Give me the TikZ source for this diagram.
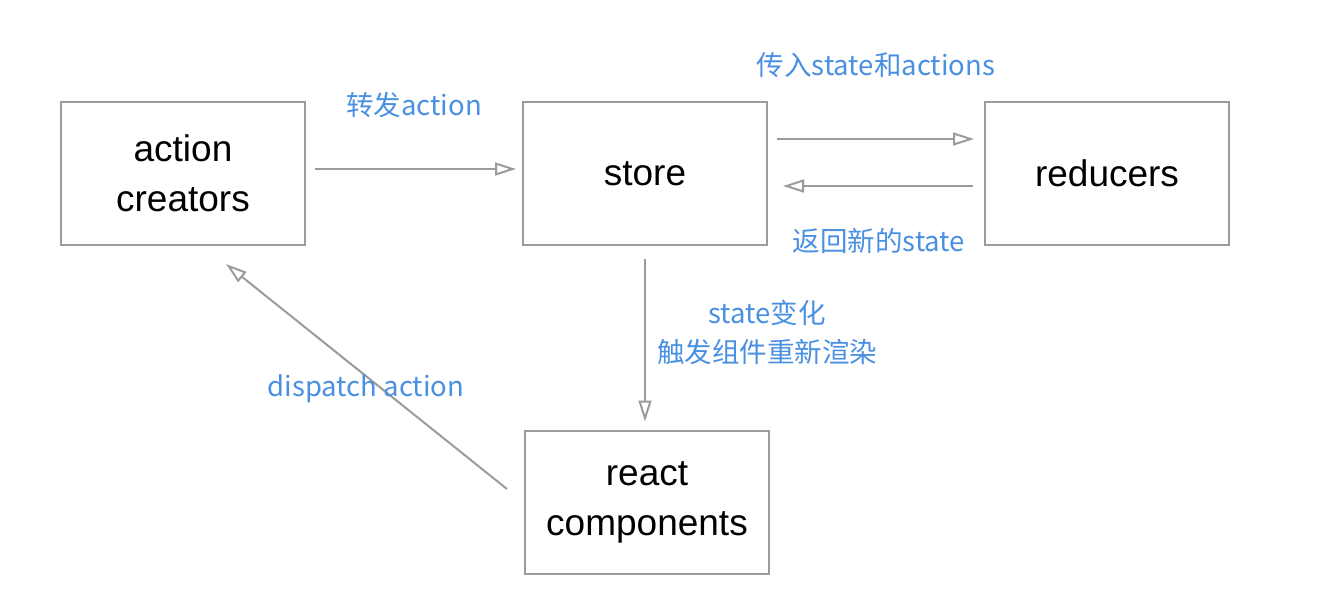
\documentclass[tikz,border=0pt]{standalone}
\usepackage{fontspec}
\setmainfont{Liberation Sans}
\newfontfamily\cjk{Noto Sans CJK SC}
\usetikzlibrary{arrows.meta}
\definecolor{linegray}{HTML}{9B9B9B}
\definecolor{labelblue}{HTML}{4A90E2}
\tikzset{
  box/.style={draw=linegray, line width=2pt, minimum width=244pt, minimum height=143pt, align=center, inner sep=0pt,
    font=\fontsize{37}{50}\selectfont, text=black},
  conn/.style={draw=linegray, line width=2pt, -{Triangle[open, length=21pt, width=13pt, line width=2pt]}},
  lbl/.style={text=labelblue, font=\cjk\fontsize{27.5}{39}\selectfont, align=center, inner sep=0pt}
}
\begin{document}
\begin{tikzpicture}[x=1pt, y=-1pt]
\useasboundingbox (0,0) rectangle (1322,614);
\node[box] (ac) at (183,173.5) {action\\creators};
\node[box] (st) at (645,173.5) {store};
\node[box] (rd) at (1107,173.5) {reducers};
\node[box] (rc) at (647,502) {react\\components};

\draw[conn] ([shift={(9,-4.5)}]ac.east) -- ([shift={(-6,-4.5)}]st.west);
\draw[conn] ([shift={(9,-34.5)}]st.east) -- ([shift={(-10,-34.5)}]rd.west);
\draw[conn] ([shift={(-11,12.5)}]rd.west) -- ([shift={(15,12.5)}]st.east);
\draw[conn] ([shift={(0,13)}]st.south) -- ([shift={(-2,-8)}]rc.north);
\draw[conn] ([shift={(-17,-13)}]rc.west) -- ([shift={(43,18)}]ac.south);

\node[lbl] (l1) at (414,105) {转发action};
\node[lbl] (l2) at (876,65) {传入state和actions};
\node[lbl] (l3) at (879,241) {返回新的state};
\node[lbl] (l4) at (767,332) {state变化\\触发组件重新渲染};
\node[lbl] (l5) at (366,389) {dispatch action};
\end{tikzpicture}
\end{document}
